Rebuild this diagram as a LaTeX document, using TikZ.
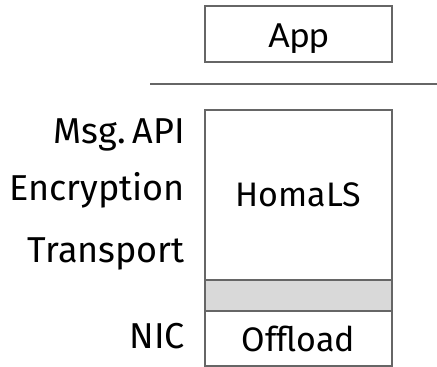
\documentclass[tikz,border=0pt]{standalone}
\usepackage{fontspec}
\setmainfont{Fira Sans}
\newfontfamily\appfont{Carlito}
\begin{document}
\begin{tikzpicture}[x=1pt,y=-1pt,
  box/.style={draw=black!60,line width=1.5pt},
  txt/.style={font=\fontsize{34}{36}\selectfont,inner sep=0pt},
  lbl/.style={font=\fontsize{36}{38}\selectfont,inner sep=0pt,anchor=base east}]
\useasboundingbox (0,0) rectangle (437,367);
\node[box,minimum width=187pt,minimum height=56pt,inner sep=0pt] (app) at (298.5,34) {};
\node[inner sep=0pt,anchor=base,font=\appfont\fontsize{37}{38}\selectfont] (apptxt) at (298.5,47) {App};
\coordinate (sl) at (150,84);
\coordinate (sr) at (437,84);
\draw[black!60,line width=1.5pt] (sl) -- (sr);
\node[box,minimum width=187pt,minimum height=170pt,inner sep=0pt] (homa) at (298.5,195) {};
\node[txt,anchor=base] (homatxt) at (298.5,206) {HomaLS};
\node[box,fill=black!15,minimum width=187pt,minimum height=31pt,inner sep=0pt] (gap) at (298.5,295.5) {};
\node[box,minimum width=187pt,minimum height=55pt,inner sep=0pt] (off) at (298.5,338.5) {};
\node[txt,anchor=base] (offtxt) at (298.5,351) {Offload};
\node[lbl] (msg) at (185,143) {Msg.\hspace{0.18em}API};
\node[lbl] (enc) at (185,200) {Encryption};
\node[lbl] (tr) at (185,262) {Transport};
\node[lbl] (nic) at (185,348) {NIC};
\end{tikzpicture}
\end{document}
